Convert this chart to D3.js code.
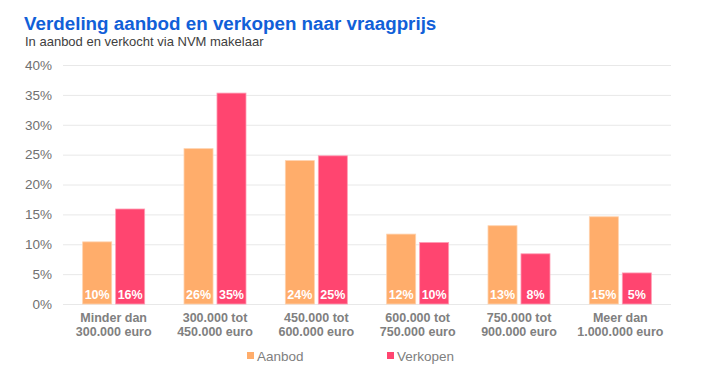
<!DOCTYPE html>
<html>
<head>
<meta charset="utf-8">
<script src="https://cdn.jsdelivr.net/npm/d3@7"></script>
<style>
  body { margin: 0; background: #fff; }
  text { font-family: "Liberation Sans", Arial, sans-serif; }
</style>
</head>
<body>
<div id="chart"></div>
<script>
// data
var categories = [
  ["Minder dan", "300.000 euro"],
  ["300.000 tot", "450.000 euro"],
  ["450.000 tot", "600.000 euro"],
  ["600.000 tot", "750.000 euro"],
  ["750.000 tot", "900.000 euro"],
  ["Meer dan", "1.000.000 euro"]
];
var seriesNames = ["Aanbod", "Verkopen"];
var aanbod = [10.4, 26.0, 24.0, 11.7, 13.1, 14.6];
var verkopen = [15.9, 35.3, 24.8, 10.3, 8.4, 5.2];
var yTicks = [0, 5, 10, 15, 20, 25, 30, 35, 40];
var colors = ["#ffad6b", "#ff4570"];

var width = 719, height = 390;
var margin = { left: 63, right: 48, top: 65, bottom: 86 };

var svg = d3.select('#chart').append('svg')
  .attr('width', width)
  .attr('height', height);

// title
svg.append('text')
  .attr('x', 24).attr('y', 30)
  .attr('fill', '#1160d8')
  .style('font-size', '18.8px')
  .style('font-weight', 'bold')
  .text('Verdeling aanbod en verkopen naar vraagprijs');
svg.append('text')
  .attr('x', 25).attr('y', 46)
  .attr('fill', '#404040')
  .style('font-size', '13px')
  .text('In aanbod en verkocht via NVM makelaar');

var x0 = d3.scaleBand()
  .domain(d3.range(categories.length))
  .range([margin.left, width - margin.right]);
var x1 = d3.scaleBand()
  .domain(seriesNames)
  .range([0, 62])
  .paddingInner(0.12);
var y = d3.scaleLinear()
  .domain([0, 40])
  .range([height - margin.bottom, margin.top]);

// gridlines + y labels
var yAxis = d3.axisLeft(y)
  .tickValues(yTicks)
  .tickSize(-(width - margin.left - margin.right))
  .tickPadding(11)
  .tickFormat(function(d) { return d + '%'; });
var gy = svg.append('g')
  .attr('transform', 'translate(' + margin.left + ',0)')
  .call(yAxis);
gy.select('.domain').remove();
gy.selectAll('.tick line').attr('stroke', '#e8e8e8');
gy.selectAll('.tick text')
  .attr('fill', '#707070')
  .style('font-size', '13.5px')
  .style('font-family', '"Liberation Sans", Arial, sans-serif');

var data = [aanbod, verkopen];
var groups = svg.selectAll('.grp')
  .data(categories)
  .enter().append('g')
  .attr('class', 'grp')
  .attr('transform', function(d, i) {
    return 'translate(' + (x0(i) + x0.bandwidth() / 2 - 31) + ',0)';
  });

groups.each(function(c, i) {
  var g = d3.select(this);
  seriesNames.forEach(function(s, k) {
    var v = data[k][i];
    g.append('rect')
      .attr('x', x1(s))
      .attr('y', y(v))
      .attr('width', x1.bandwidth())
      .attr('height', y(0) - y(v))
      .attr('fill', colors[k])
      .attr('stroke', k == 0 ? '#ffd2ae' : '#ff9db4')
      .attr('stroke-width', 0.8);
    g.append('text')
      .attr('x', x1(s) + x1.bandwidth() / 2)
      .attr('y', y(0) - 5)
      .attr('text-anchor', 'middle')
      .attr('fill', '#fff')
      .style('font-size', '12.5px')
      .style('font-weight', 'bold')
      .text(d3.format('.0f')(v) + '%');
  });
});

// category labels
var gx = svg.append('g');
categories.forEach(function(c, i) {
  var t = gx.append('text')
    .attr('x', x0(i) + x0.bandwidth() / 2)
    .attr('y', y(0) + 18)
    .attr('text-anchor', 'middle')
    .attr('fill', '#808080')
    .style('font-size', '12.5px')
    .style('font-weight', 'bold');
  c.forEach(function(line, j) {
    t.append('tspan')
      .attr('x', x0(i) + x0.bandwidth() / 2)
      .attr('dy', j == 0 ? 0 : 14)
      .text(line);
  });
});

// legend
var legendX = [247, 387];
seriesNames.forEach(function(s, k) {
  svg.append('rect')
    .attr('x', legendX[k]).attr('y', 352)
    .attr('width', 7).attr('height', 7)
    .attr('fill', colors[k]);
  svg.append('text')
    .attr('x', legendX[k] + 10).attr('y', 361)
    .attr('fill', '#808080')
    .style('font-size', '13.5px')
    .text(s);
});
</script>
</body>
</html>
